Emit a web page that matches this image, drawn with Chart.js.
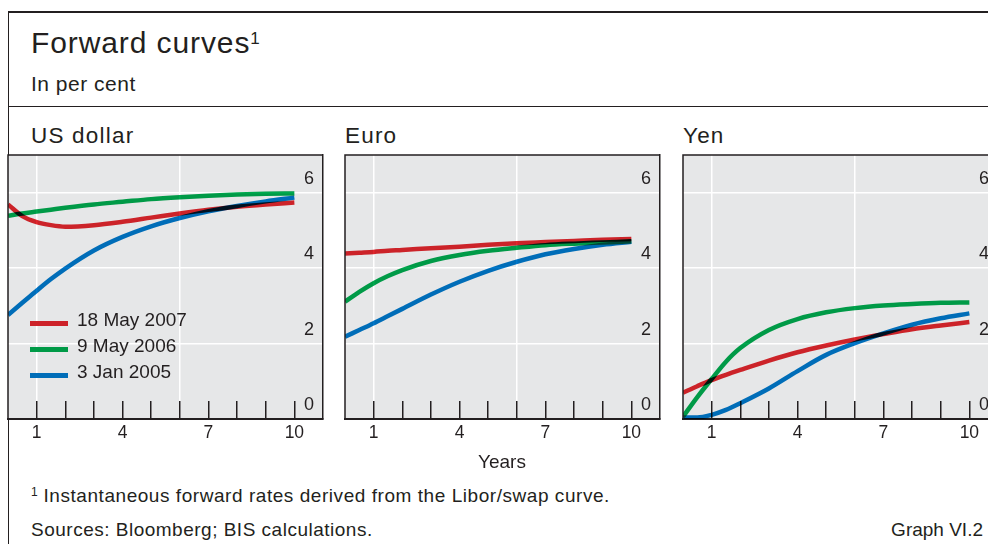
<!DOCTYPE html>
<html>
<head>
<meta charset="utf-8">
<script src="https://cdn.jsdelivr.net/npm/chart.js@4.4.1/dist/chart.umd.min.js"></script>
<style>
  html, body { margin: 0; padding: 0; background: #fff; overflow: hidden; width: 988px; height: 544px; }
  body { position: relative; font-family: "Liberation Sans", Arial, sans-serif; color: #231f20; }
  .t { position: absolute; white-space: nowrap; line-height: 1; }
  .rule { position: absolute; background: #231f20; }
  canvas.panel { position: absolute; top: 153px; }
</style>
</head>
<body>
<div class="rule" style="left:8px; top:11px; width:980px; height:1.5px"></div>
<div class="rule" style="left:8px; top:105.5px; width:980px; height:1.5px"></div>
<div class="rule" style="left:7.5px; top:11px; width:1.5px; height:540px"></div>

<div class="t" style="left:31px; top:28px; font-size:30px; letter-spacing:0.9px">Forward curves<span style="font-size:17px; vertical-align:9.5px; letter-spacing:0">1</span></div>
<div class="t" style="left:31px; top:73px; font-size:21px; letter-spacing:0.5px">In per cent</div>

<div class="t" id="title0" style="left:31px; top:125px; font-size:22.5px; letter-spacing:1.2px"></div>
<div class="t" id="title1" style="left:345px; top:125px; font-size:22.5px; letter-spacing:1.2px"></div>
<div class="t" id="title2" style="left:683px; top:125px; font-size:22.5px; letter-spacing:1.2px"></div>

<canvas class="panel" id="c0" width="319" height="306" style="left:6px"></canvas>
<canvas class="panel" id="c1" width="319" height="306" style="left:343px"></canvas>
<canvas class="panel" id="c2" width="319" height="306" style="left:681px"></canvas>

<div id="legend"></div>

<div class="t" id="xtitle" style="left:502px; top:452px; font-size:19px; transform:translateX(-50%)"></div>
<div class="t" style="left:31px; top:486px; font-size:19px; letter-spacing:0.55px"><span style="font-size:12px; vertical-align:6px; letter-spacing:0">1</span> Instantaneous forward rates derived from the Libor/swap curve.</div>
<div class="t" style="left:31px; top:520px; font-size:19px; letter-spacing:0.5px">Sources: Bloomberg; BIS calculations.</div>
<div class="t" style="right:5px; top:520px; font-size:19px">Graph VI.2</div>

<script>
// maturities in years
const maturities = [0, 0.5, 1, 1.5, 2, 3, 4, 5, 6, 7, 8, 9, 10];

const seriesLabels = ['18 May 2007', '9 May 2006', '3 Jan 2005'];
const seriesColors = ['#cd2229', '#009a47', '#006db8'];
const panelTitles = ['US dollar', 'Euro', 'Yen'];
const xAxisTitle = 'Years';

// US dollar
const usdMay2007 = [5.69, 5.38, 5.22, 5.14, 5.10, 5.14, 5.23, 5.34, 5.45, 5.55, 5.63, 5.69, 5.74];
const usdMay2006 = [5.39, 5.45, 5.50, 5.55, 5.60, 5.69, 5.76, 5.83, 5.88, 5.92, 5.95, 5.97, 5.98];
const usdJan2005 = [2.76, 3.08, 3.40, 3.71, 3.99, 4.47, 4.83, 5.11, 5.33, 5.51, 5.65, 5.77, 5.87];

// Euro
const eurMay2007 = [4.39, 4.41, 4.43, 4.46, 4.48, 4.53, 4.57, 4.62, 4.66, 4.69, 4.72, 4.75, 4.77];
const eurMay2006 = [3.11, 3.37, 3.60, 3.79, 3.95, 4.19, 4.35, 4.46, 4.54, 4.61, 4.65, 4.68, 4.71];
const eurJan2005 = [2.18, 2.36, 2.54, 2.73, 2.92, 3.30, 3.64, 3.93, 4.17, 4.37, 4.51, 4.62, 4.70];

// Yen
const jpyMay2007 = [0.70, 0.87, 1.03, 1.17, 1.30, 1.55, 1.77, 1.95, 2.11, 2.25, 2.38, 2.48, 2.57];
const jpyMay2006 = [0.06, 0.58, 1.06, 1.52, 1.88, 2.36, 2.65, 2.83, 2.94, 3.01, 3.05, 3.08, 3.09];
const jpyJan2005 = [0.04, 0.04, 0.11, 0.24, 0.42, 0.81, 1.27, 1.70, 2.01, 2.27, 2.50, 2.67, 2.80];

const xTickValues = [1, 2, 3, 4, 5, 6, 7, 8, 9, 10];
const xLabelValues = [1, 4, 7, 10];
const xGridValues = [1, 6];
const yTickValues = [0, 2, 4, 6];

const panels = [
  [usdMay2007, usdMay2006, usdJan2005],
  [eurMay2007, eurMay2006, eurJan2005],
  [jpyMay2007, jpyMay2006, jpyJan2005]
];

const ink = '#231f20';
const fontFamily = '"Liberation Sans", Arial, sans-serif';

// lines are overprinted (multiply) on the grey, so lift them a bit
function lineColor(hex) {
  const n = parseInt(hex.slice(1), 16);
  const ch = [(n >> 16) & 255, (n >> 8) & 255, n & 255].map(v => Math.min(255, Math.round(v / 0.905)));
  return 'rgb(' + ch.join(',') + ')';
}

const plotFrame = {
  id: 'plotFrame',
  beforeDraw(chart) {
    const {ctx, chartArea: a} = chart;
    ctx.save();
    ctx.fillStyle = '#e6e7e8';
    ctx.fillRect(a.left, a.top, a.right - a.left, a.bottom - a.top);
    ctx.restore();
  },
  beforeDatasetsDraw(chart) {
    chart.ctx.save();
    chart.ctx.globalCompositeOperation = 'multiply';
  },
  afterDatasetsDraw(chart) {
    const {ctx, chartArea: a} = chart;
    ctx.restore();
    ctx.save();
    ctx.strokeStyle = ink;
    ctx.lineWidth = 1.5;
    ctx.beginPath();
    ctx.moveTo(a.left, a.bottom);
    ctx.lineTo(a.left, a.top);
    ctx.lineTo(a.right, a.top);
    ctx.stroke();
    ctx.restore();
  }
};

function makeChart(canvasId, series) {
  return new Chart(document.getElementById(canvasId), {
    type: 'line',
    data: {
      datasets: series.map((vals, i) => ({
        label: seriesLabels[i],
        data: maturities.map((m, j) => ({x: m, y: vals[j]})),
        borderColor: lineColor(seriesColors[i]),
        borderWidth: 4.5,
        pointRadius: 0,
        cubicInterpolationMode: 'monotone',
        fill: false
      }))
    },
    options: {
      responsive: false,
      animation: false,
      events: [],
      layout: {padding: {left: 2, right: 2, top: 2, bottom: 0}},
      plugins: {legend: {display: false}, tooltip: {enabled: false}},
      scales: {
        x: {
          type: 'linear',
          min: 0,
          max: 11,
          afterBuildTicks: s => { s.ticks = xTickValues.map(v => ({value: v})); },
          afterFit: s => { s.height = 40; s.paddingLeft = 0; s.paddingRight = 0; },
          grid: {
            color: c => (c.tick && xGridValues.includes(c.tick.value)) ? '#ffffff' : 'rgba(0,0,0,0)',
            lineWidth: 1.5,
            drawTicks: true,
            tickLength: -18,
            tickColor: ink,
            tickWidth: 1.5
          },
          border: {display: true, color: ink, width: 2},
          ticks: {
            autoSkip: false,
            maxRotation: 0,
            padding: 22,
            color: ink,
            font: {family: fontFamily, size: 17.5},
            callback: v => xLabelValues.includes(v) ? String(v) : ''
          }
        },
        y: {
          position: 'right',
          min: 0,
          max: 7,
          afterBuildTicks: s => { s.ticks = yTickValues.map(v => ({value: v})); },
          afterFit: s => { s.width = 0; s.paddingTop = 0; s.paddingBottom = 0; },
          grid: {
            color: c => (c.tick && c.tick.value > 0) ? '#ffffff' : 'rgba(0,0,0,0)',
            lineWidth: 1.5,
            drawTicks: false
          },
          border: {display: true, color: ink, width: 1.5},
          ticks: {
            mirror: true,
            padding: -9,
            labelOffset: -14,
            color: ink,
            font: {family: fontFamily, size: 18}
          }
        }
      }
    },
    plugins: [plotFrame]
  });
}

panels.forEach((series, i) => {
  document.getElementById('title' + i).textContent = panelTitles[i];
  makeChart('c' + i, series);
});
document.getElementById('xtitle').textContent = xAxisTitle;

// legend inside the US dollar panel
const legendRowCentres = [323.3, 349.3, 375.7];
const legend = document.getElementById('legend');
seriesLabels.forEach((label, i) => {
  const sw = document.createElement('div');
  sw.style.cssText = 'position:absolute;left:30px;width:38px;height:5px;top:' + (legendRowCentres[i] - 2.5) + 'px;background:' + seriesColors[i];
  legend.appendChild(sw);
  const tx = document.createElement('div');
  tx.className = 't';
  tx.style.cssText = 'left:77px;font-size:19px;top:' + (legendRowCentres[i] + 2.4 - 16.1) + 'px';
  tx.textContent = label;
  legend.appendChild(tx);
});
</script>
</body>
</html>
